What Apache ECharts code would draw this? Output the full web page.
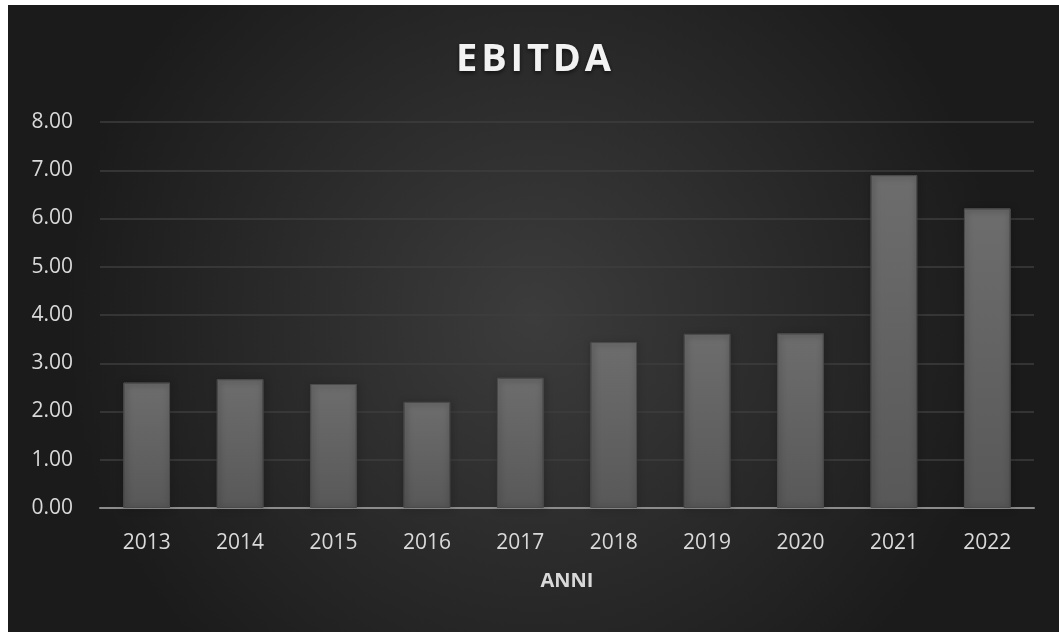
<!DOCTYPE html>
<html>
<head>
<meta charset="utf-8">
<script src="https://cdn.jsdelivr.net/npm/echarts@6/dist/echarts.min.js"></script>
<style>
  html, body { margin: 0; padding: 0; background: #ffffff; width: 1059px; height: 632px; overflow: hidden; }
  #chart { position: absolute; left: 8px; top: 5px; width: 1051px; height: 627px; }
</style>
</head>
<body>
<div id="chart"></div>
<script>
// EBITDA per anno
const years = ['2013', '2014', '2015', '2016', '2017', '2018', '2019', '2020', '2021', '2022'];
const ebitda = [2.60, 2.67, 2.57, 2.20, 2.70, 3.44, 3.61, 3.62, 6.90, 6.21];
const yTicks = { min: 0, max: 8, step: 1 };
const titleText = 'EBITDA';
const axisName = 'ANNI';

// spread letters with hair spaces for a lightly tracked heading
const spaced = s => s.split('').join('\u200A');

const chart = echarts.init(document.getElementById('chart'), null, { renderer: 'canvas' });
const font = '"Open Sans", sans-serif';

chart.setOption({
  backgroundColor: {
    type: 'radial', x: 0.5, y: 0.5, r: 0.75,
    colorStops: [
      { offset: 0, color: '#3c3c3c' },
      { offset: 1, color: '#1b1b1b' }
    ]
  },
  title: {
    text: spaced(titleText),
    left: 'center',
    top: 31,
    textStyle: {
      color: '#f2f2f2', fontFamily: font, fontWeight: 'bold', fontSize: 38,
      textShadowColor: 'rgba(0,0,0,0.6)', textShadowBlur: 4, textShadowOffsetY: 2
    }
  },
  grid: { left: 92, right: 25, top: 117, bottom: 124, containLabel: false },
  xAxis: {
    type: 'category',
    data: years,
    name: axisName,
    nameLocation: 'middle',
    nameGap: 63,
    nameTextStyle: { color: '#d9d9d9', fontFamily: font, fontWeight: 'bold', fontSize: 20 },
    axisLine: { lineStyle: { color: '#8c8c8c', width: 2 } },
    axisTick: { show: false },
    axisLabel: { color: '#d9d9d9', fontFamily: font, fontSize: 21, margin: 25 }
  },
  yAxis: {
    type: 'value',
    min: yTicks.min, max: yTicks.max, interval: yTicks.step,
    axisLine: { show: false },
    axisTick: { show: false },
    splitLine: { lineStyle: { color: '#3e3e3e', width: 1.5 } },
    axisLabel: {
      color: '#d9d9d9', fontFamily: font, fontSize: 21, margin: 27,
      formatter: v => v.toFixed(2)
    }
  },
  series: [{
    type: 'bar',
    data: ebitda,
    barWidth: '50%',
    itemStyle: {
      color: {
        type: 'linear', x: 0, y: 0, x2: 0, y2: 1,
        colorStops: [
          { offset: 0, color: '#6d6d6d' },
          { offset: 1, color: '#585858' }
        ]
      },
      borderColor: '#4a4a4a', borderWidth: 1,
      shadowColor: 'rgba(0,0,0,0.55)', shadowBlur: 6, shadowOffsetX: 1, shadowOffsetY: 1
    }
  }]
});
</script>
</body>
</html>
